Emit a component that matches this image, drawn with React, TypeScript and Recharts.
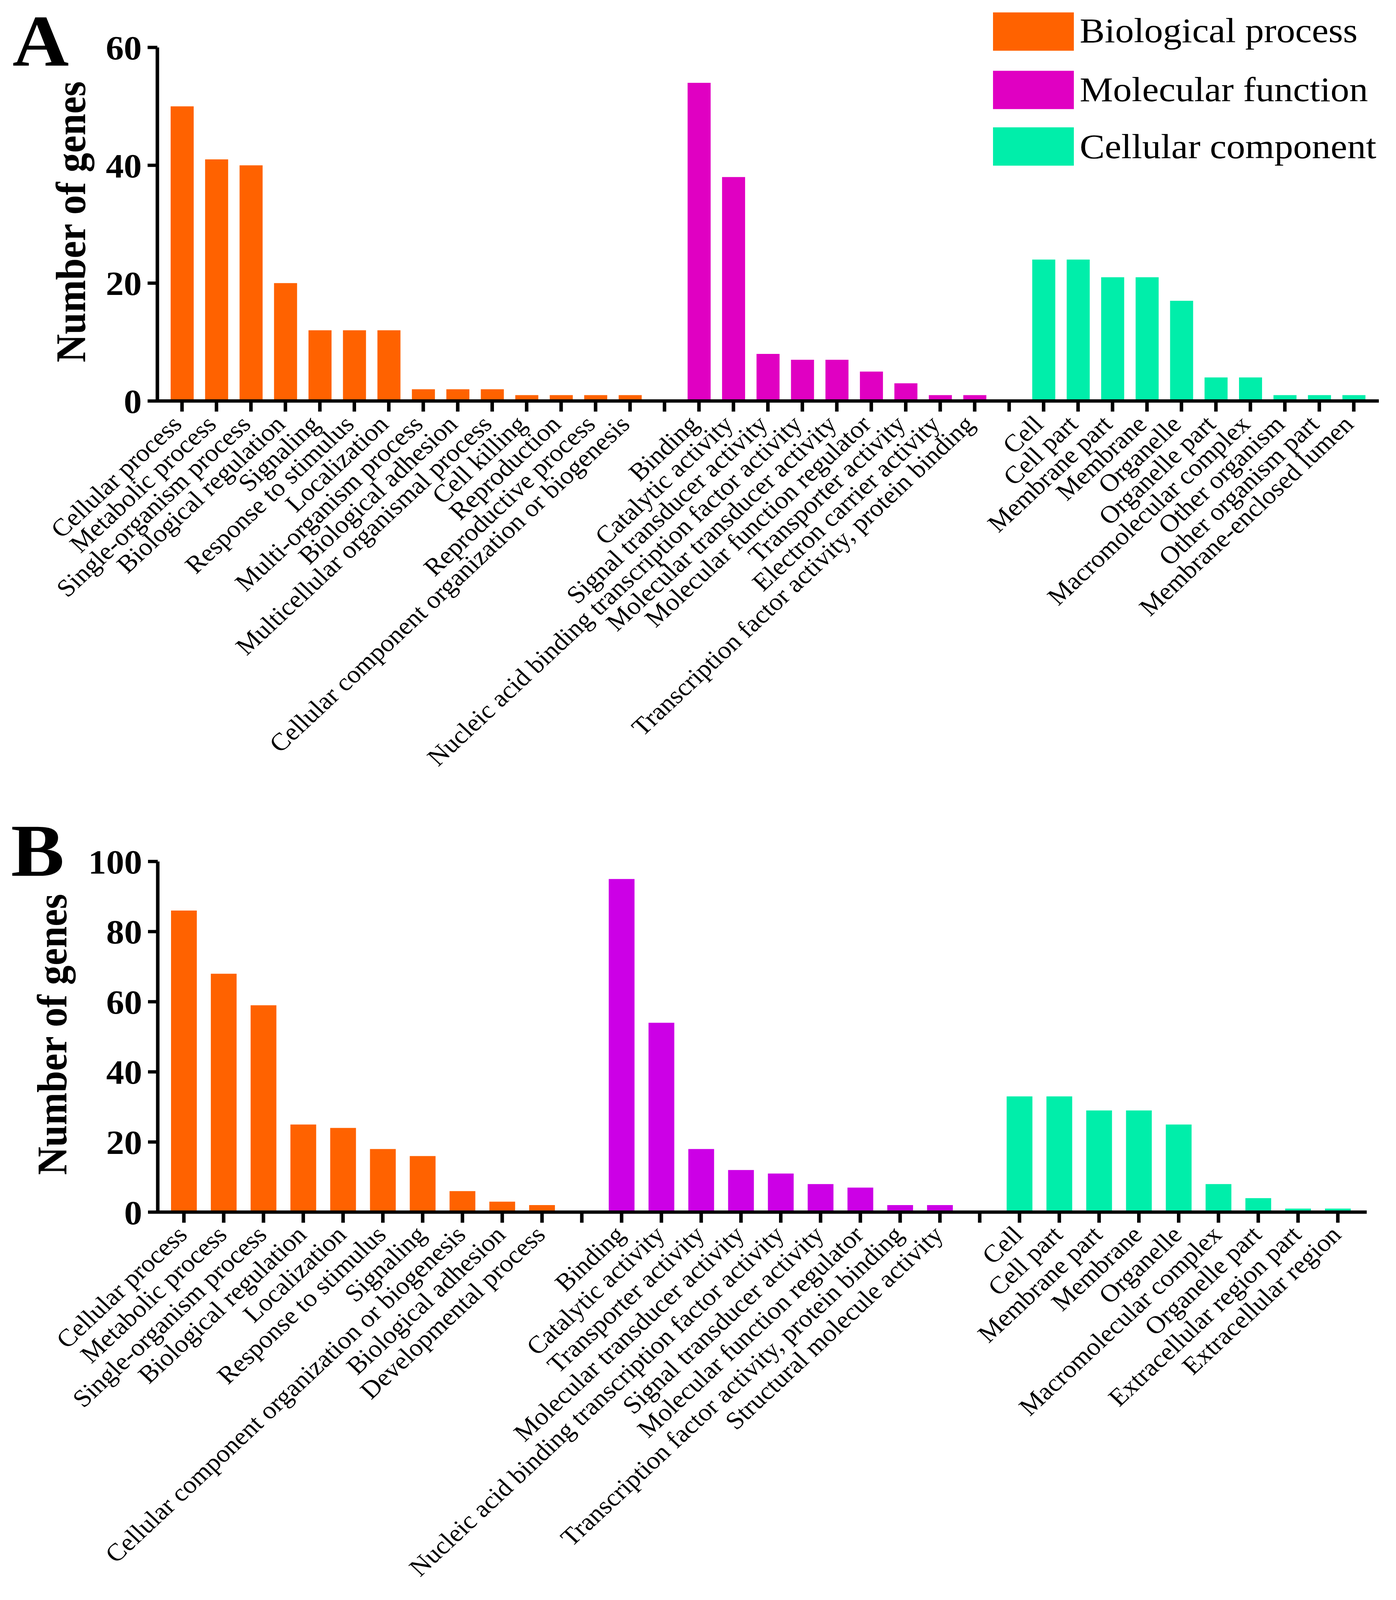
import React from 'react';
import { BarChart, Bar, XAxis, YAxis, Cell } from 'recharts';

const FONT = '"Liberation Serif", "Times New Roman", serif';

const COLOR_BP = '#FF6200';
const COLOR_MF_A = '#E000C2';
const COLOR_MF_B = '#CC00E6';
const COLOR_CC = '#00EEAA';

// ---------- Panel A ----------
const aBpNames = [
  'Cellular process',
  'Metabolic process',
  'Single-organism process',
  'Biological regulation',
  'Signaling',
  'Response to stimulus',
  'Localization',
  'Multi-organism process',
  'Biological adhesion',
  'Multicellular organismal process',
  'Cell killing',
  'Reproduction',
  'Reproductive process',
  'Cellular component organization or biogenesis',
];
const aBpValues = [50, 41, 40, 20, 12, 12, 12, 2, 2, 2, 1, 1, 1, 1];

const aMfNames = [
  'Binding',
  'Catalytic activity',
  'Signal transducer activity',
  'Nucleic acid binding transcription factor activity',
  'Molecular transducer activity',
  'Molecular function regulator',
  'Transporter activity',
  'Electron carrier activity',
  'Transcription factor activity, protein binding',
];
const aMfValues = [54, 38, 8, 7, 7, 5, 3, 1, 1];

const aCcNames = [
  'Cell',
  'Cell part',
  'Membrane part',
  'Membrane',
  'Organelle',
  'Organelle part',
  'Macromolecular complex',
  'Other organism',
  'Other organism part',
  'Membrane-enclosed lumen',
];
const aCcValues = [24, 24, 21, 21, 17, 4, 4, 1, 1, 1];

const aYTicks = [0, 20, 40, 60];

// ---------- Panel B ----------
const bBpNames = [
  'Cellular process',
  'Metabolic process',
  'Single-organism process',
  'Biological regulation',
  'Localization',
  'Response to stimulus',
  'Signaling',
  'Cellular component organization or biogenesis',
  'Biological adhesion',
  'Developmental process',
];
const bBpValues = [86, 68, 59, 25, 24, 18, 16, 6, 3, 2];

const bMfNames = [
  'Binding',
  'Catalytic activity',
  'Transporter activity',
  'Molecular transducer activity',
  'Nucleic acid binding transcription factor activity',
  'Signal transducer activity',
  'Molecular function regulator',
  'Transcription factor activity, protein binding',
  'Structural molecule activity',
];
const bMfValues = [95, 54, 18, 12, 11, 8, 7, 2, 2];

const bCcNames = [
  'Cell',
  'Cell part',
  'Membrane part',
  'Membrane',
  'Organelle',
  'Macromolecular complex',
  'Organelle part',
  'Extracellular region part',
  'Extracellular region',
];
const bCcValues = [33, 33, 29, 29, 25, 8, 4, 1, 1];

const bYTicks = [0, 20, 40, 60, 80, 100];

const legendItems = [
  { label: 'Biological process', color: COLOR_BP },
  { label: 'Molecular function', color: COLOR_MF_A },
  { label: 'Cellular component', color: COLOR_CC },
];

type Row = { key: string; label: string; value: number | null; color: string };
type Group = { id: string; names: string[]; values: number[]; color: string };

function buildRows(groups: Group[]): Row[] {
  const rows: Row[] = [];
  groups.forEach((g, gi) => {
    if (gi > 0) rows.push({ key: `gap${gi}`, label: '', value: null, color: 'none' });
    g.names.forEach((n, i) =>
      rows.push({ key: `${g.id}${i}`, label: n, value: g.values[i], color: g.color })
    );
  });
  return rows;
}

const rowsA = buildRows([
  { id: 'bp', names: aBpNames, values: aBpValues, color: COLOR_BP },
  { id: 'mf', names: aMfNames, values: aMfValues, color: COLOR_MF_A },
  { id: 'cc', names: aCcNames, values: aCcValues, color: COLOR_CC },
]);

const rowsB = buildRows([
  { id: 'bp', names: bBpNames, values: bBpValues, color: COLOR_BP },
  { id: 'mf', names: bMfNames, values: bMfValues, color: COLOR_MF_B },
  { id: 'cc', names: bCcNames, values: bCcValues, color: COLOR_CC },
]);

function makeTick(rows: Row[], dx: number, dy: number) {
  const map: Record<string, string> = {};
  rows.forEach((r) => (map[r.key] = r.label));
  return (props: any) => {
    const { x, y, payload } = props;
    const label = map[payload.value];
    if (!label) return <g />;
    const px = x + dx;
    const py = y + dy;
    return (
      <text
        x={px}
        y={py}
        transform={`rotate(-45 ${px} ${py})`}
        textAnchor="end"
        fontFamily={FONT}
        fontSize={68}
        fill="#000"
      >
        {label}
      </text>
    );
  };
}

const axisLine = { stroke: '#000', strokeWidth: 9 };
const tickLine = { stroke: '#000', strokeWidth: 9 };
const yTickStyle = { fill: '#000', fontSize: 92, fontWeight: 'bold', fontFamily: FONT };

function Panel(props: {
  rows: Row[];
  top: number;
  height: number;
  marginTop: number;
  plotHeight: number;
  yWidth: number;
  marginRight: number;
  padLeft: number;
  padRight: number;
  barSize: number;
  domainMax: number;
  ticks: number[];
  tickDx: number;
  tickDy: number;
}) {
  const xHeight = props.height - props.marginTop - props.plotHeight;
  return (
    <div style={{ position: 'absolute', left: 0, top: props.top }}>
      <BarChart
        width={3575}
        height={props.height}
        data={props.rows}
        margin={{ top: props.marginTop, right: props.marginRight, left: 0, bottom: 0 }}
        barCategoryGap={0}
      >
        <XAxis
          dataKey="key"
          type="category"
          interval={0}
          height={xHeight}
          padding={{ left: props.padLeft, right: props.padRight }}
          axisLine={axisLine}
          tickLine={tickLine}
          tickSize={29}
          tickMargin={0}
          tick={makeTick(props.rows, props.tickDx, props.tickDy)}
        />
        <YAxis
          type="number"
          width={props.yWidth}
          domain={[0, props.domainMax]}
          ticks={props.ticks}
          interval={0}
          axisLine={axisLine}
          tickLine={tickLine}
          tickSize={25}
          tickMargin={15}
          tick={yTickStyle}
          allowDecimals={false}
        />
        <Bar dataKey="value" barSize={props.barSize} isAnimationActive={false}>
          {props.rows.map((r) => (
            <Cell key={r.key} fill={r.color} />
          ))}
        </Bar>
      </BarChart>
    </div>
  );
}

const FIG_W = 3575;
const FIG_H = 4385;

export default function App() {
  // The photographed viewport can be shorter than the figure: fit the figure to it vertically.
  const vh = typeof window !== 'undefined' && window.innerHeight ? window.innerHeight : FIG_H;
  const sy = Math.min(1, vh / FIG_H);
  return (
    <div style={{ width: FIG_W, height: Math.floor(FIG_H * sy), overflow: 'hidden', background: '#fff' }}>
      <style>{'html,body{margin:0;padding:0;overflow:hidden;background:#fff;}'}</style>
      <div
        style={{
          position: 'relative',
          width: FIG_W,
          height: FIG_H,
          background: '#fff',
          fontFamily: FONT,
          transform: `scaleY(${sy})`,
          transformOrigin: '0 0',
        }}
      >
        <Panel
          rows={rowsA}
          top={0}
          height={2200}
          marginTop={130}
          plotHeight={969}
          yWidth={403}
          marginRight={44}
          padLeft={19}
          padRight={20}
          barSize={59}
          domainMax={60}
          ticks={aYTicks}
          tickDx={3}
          tickDy={39}
        />
        <Panel
          rows={rowsB}
          top={2000}
          height={2385}
          marginTop={361}
          plotHeight={961}
          yWidth={404}
          marginRight={75}
          padLeft={16}
          padRight={23}
          barSize={66}
          domainMax={100}
          ticks={bYTicks}
          tickDx={12}
          tickDy={37}
        />
        <svg
          width={FIG_W}
          height={FIG_H}
          style={{ position: 'absolute', left: 0, top: 0, pointerEvents: 'none' }}
        >
          <text x={32} y={180} fontFamily={FONT} fontWeight="bold" fontSize={200} fill="#000">
            A
          </text>
          <text x={28} y={2400} fontFamily={FONT} fontWeight="bold" fontSize={205} fill="#000">
            B
          </text>
          <text
            x={218}
            y={608}
            transform="rotate(-90 218 608)"
            textAnchor="middle"
            fontFamily={FONT}
            fontWeight="bold"
            fontSize={107}
            fill="#000"
          >
            Number of genes
          </text>
          <text
            x={170}
            y={2835}
            transform="rotate(-90 170 2835)"
            textAnchor="middle"
            fontFamily={FONT}
            fontWeight="bold"
            fontSize={107}
            fill="#000"
          >
            Number of genes
          </text>
          {legendItems.map((it, i) => {
            const boxTop = [34, 194, 349][i];
            const base = [116, 277, 434][i];
            return (
              <g key={it.label}>
                <rect x={2543} y={boxTop} width={207} height={105} fill={it.color} />
                <text x={2765} y={base} fontFamily={FONT} fontSize={96} fill="#000">
                  {it.label}
                </text>
              </g>
            );
          })}
        </svg>
      </div>
    </div>
  );
}
